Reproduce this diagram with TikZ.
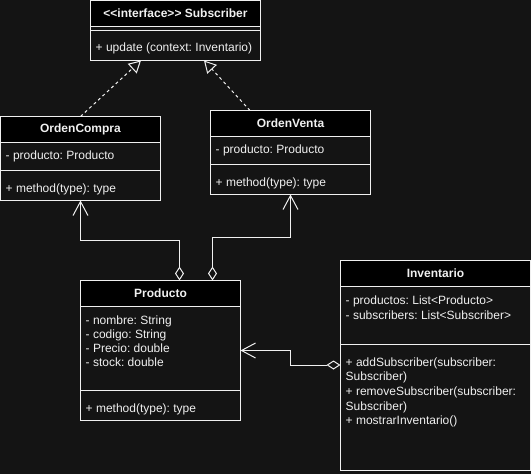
\documentclass[tikz,border=0pt]{standalone}
\usepackage{fontspec}
\setmainfont{Liberation Sans}
\usetikzlibrary{arrows.meta,calc}
\definecolor{bg}{HTML}{141414}
\definecolor{fg}{HTML}{F0F0F0}
\frenchspacing
\tikzset{
  classbox/.style={draw=fg, fill=bg, line width=1pt, anchor=north west, inner sep=0pt, outer sep=0pt},
  headbar/.style={draw=fg, fill=black, line width=1pt},
  sepline/.style={draw=fg, line width=1pt},
  title/.style={text=fg, font=\fontsize{12}{14}\selectfont\bfseries, inner sep=0pt},
  member/.style={text=fg, font=\fontsize{12}{14}\selectfont, anchor=base west, inner sep=0pt},
  link/.style={draw=fg, line width=1pt},
  realize/.style={link, dash pattern=on 3pt off 3pt, -{Triangle[open, length=12pt, width=13pt, fill=bg]}},
  assoc/.style={link, {Diamond[open, length=14pt, width=9pt, fill=bg]}-{Straight Barb[length=14pt, width=15pt]}}
}
\begin{document}
\begin{tikzpicture}[x=1pt, y=-1pt]
\fill[bg] (0,0) rectangle (531,474);
\useasboundingbox (0,0) rectangle (531,474);

% interface Subscriber
\node[classbox, minimum width=170pt, minimum height=60pt] (sub) at (90.5,0.5) {};
\path[headbar] (sub.north west) rectangle ++(170,26);
\path[sepline] ($(sub.north west)+(0,30)$) -- ++(170,0);
\node[title] (subT) at ($(sub.north)+(0,13)$) {{<}{<}interface{>}{>} Subscriber};
\node[member] (subM) at ($(sub.north west)+(5,50.5)$) {+ update (context: Inventario)};

% OrdenCompra
\node[classbox, minimum width=160pt, minimum height=84pt] (oc) at (0.5,116.5) {};
\path[headbar] (oc.north west) rectangle ++(160,26);
\path[sepline] ($(oc.north west)+(0,54)$) -- ++(160,0);
\node[title] (ocT) at ($(oc.north)+(0,13)$) {OrdenCompra};
\node[member] (ocA) at ($(oc.north west)+(5,43)$) {- producto: Producto};
\node[member] (ocM) at ($(oc.north west)+(5,76)$) {+ method(type): type};

% OrdenVenta
\node[classbox, minimum width=160pt, minimum height=84pt] (ov) at (210.5,110.5) {};
\path[headbar] (ov.north west) rectangle ++(160,26);
\path[sepline] ($(ov.north west)+(0,54)$) -- ++(160,0);
\node[title] (ovT) at ($(ov.north)+(0,13)$) {OrdenVenta};
\node[member] (ovA) at ($(ov.north west)+(5,43)$) {- producto: Producto};
\node[member] (ovM) at ($(ov.north west)+(5,76)$) {+ method(type): type};

% Producto
\node[classbox, minimum width=160pt, minimum height=140pt] (prod) at (80.5,280.5) {};
\path[headbar] (prod.north west) rectangle ++(160,26);
\path[sepline] ($(prod.north west)+(0,110)$) -- ++(160,0);
\node[title] (prodT) at ($(prod.north)+(0,13)$) {Producto};
\node[member] (prodA1) at ($(prod.north west)+(5,43.5)$) {- nombre: String};
\node[member] (prodA2) at ($(prod.north west)+(5,57.5)$) {- codigo: String};
\node[member] (prodA3) at ($(prod.north west)+(5,72)$) {- Precio: double};
\node[member] (prodA4) at ($(prod.north west)+(5,86)$) {- stock: double};
\node[member] (prodM) at ($(prod.north west)+(5,131.5)$) {+ method(type): type};

% Inventario
\node[classbox, minimum width=190pt, minimum height=210pt] (inv) at (340.5,260.5) {};
\path[headbar] (inv.north west) rectangle ++(190,26);
\path[sepline] ($(inv.north west)+(0,84)$) -- ++(190,0);
\node[title] (invT) at ($(inv.north)+(0,13)$) {Inventario};
\node[member] (invA1) at ($(inv.north west)+(5,44)$) {- productos: List<Producto>};
\node[member] (invA2) at ($(inv.north west)+(5,58.5)$) {- subscribers: List<Subscriber>};
\node[member] (invM1) at ($(inv.north west)+(5,105.5)$) {+ addSubscriber(subscriber:};
\node[member] (invM2) at ($(inv.north west)+(5,120)$) {Subscriber)};
\node[member] (invM3) at ($(inv.north west)+(5,135)$) {+ removeSubscriber(subscriber:};
\node[member] (invM4) at ($(inv.north west)+(5,149.5)$) {Subscriber)};
\node[member] (invM5) at ($(inv.north west)+(5,164)$) {+ mostrarInventario()};

% realizations of Subscriber
\draw[realize] (oc.north) -- ($(sub.south west)+(50.5,0)$);
\draw[realize] ($(ov.north west)+(39.5,0)$) -- ($(sub.south west)+(113.5,0)$);

% aggregations
\draw[assoc] ($(prod.north west)+(99,0)$) -- ++(0,-40.5) -| (oc.south);
\draw[assoc] ($(prod.north west)+(132,0)$) -- ++(0,-43) -| (ov.south);
\draw[assoc] ($(inv.north west)+(0,104.5)$) -- ++(-50,0) |- (prod.east);
\end{tikzpicture}
\end{document}
